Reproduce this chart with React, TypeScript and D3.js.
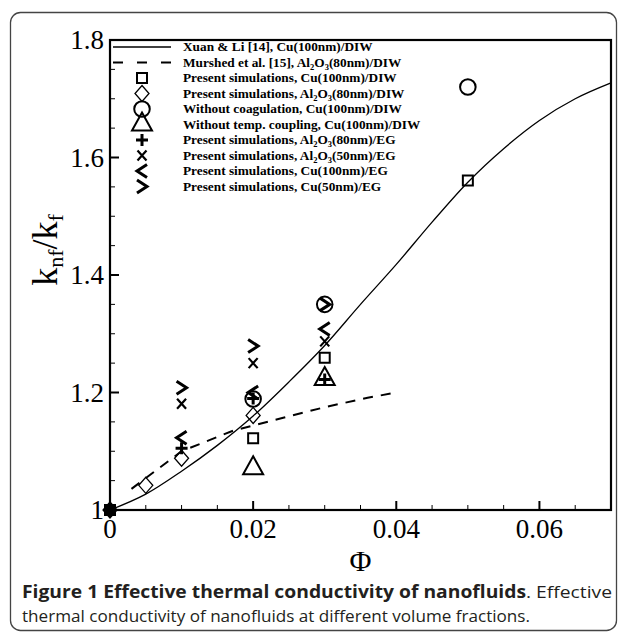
import { useEffect, useRef } from 'react';
import * as d3 from 'd3';

// Xuan & Li model curve
const xuanPhi = [0, 0.005, 0.01, 0.015, 0.02, 0.025, 0.03, 0.035, 0.04, 0.045, 0.05, 0.055, 0.06, 0.065, 0.07];
const xuanK = [1.0, 1.027, 1.066, 1.11, 1.16, 1.218, 1.28, 1.35, 1.418, 1.49, 1.558, 1.615, 1.663, 1.7, 1.727];

// Murshed et al. line
const murshedPhi = [0.003, 0.01, 0.0172, 0.0242, 0.03, 0.036, 0.04];
const murshedK = [1.036, 1.1, 1.135, 1.157, 1.175, 1.191, 1.2];

// marker series
const squarePhi = [0, 0.02, 0.03, 0.05];
const squareK = [1.0, 1.122, 1.259, 1.561];
const diamondPhi = [0, 0.005, 0.01, 0.02];
const diamondK = [1.0, 1.042, 1.088, 1.161];
const circlePhi = [0.02, 0.03, 0.05];
const circleK = [1.189, 1.35, 1.72];
const trianglePhi = [0.02, 0.03];
const triangleK = [1.071, 1.223];
const plusPhi = [0, 0.01, 0.02, 0.03];
const plusK = [1.0, 1.105, 1.19, 1.222];
const crossPhi = [0, 0.01, 0.02, 0.03];
const crossK = [1.0, 1.181, 1.25, 1.287];
const lessPhi = [0.01, 0.02, 0.03];
const lessK = [1.123, 1.2, 1.308];
const greaterPhi = [0.01, 0.02, 0.03];
const greaterK = [1.208, 1.279, 1.35];

const xTicks = [0, 0.02, 0.04, 0.06];
const xTickLabels = ['0', '0.02', '0.04', '0.06'];
const yTicks = [1.0, 1.2, 1.4, 1.6, 1.8];
const yTickLabels = ['1', '1.2', '1.4', '1.6', '1.8'];

// legend rows: [before, sub1, mid, sub2, after]
const legendRows = [
  ['Xuan & Li [14], Cu(100nm)/DIW'],
  ['Murshed et al. [15], Al', '2', 'O', '3', '(80nm)/DIW'],
  ['Present simulations, Cu(100nm)/DIW'],
  ['Present simulations, Al', '2', 'O', '3', '(80nm)/DIW'],
  ['Without coagulation, Cu(100nm)/DIW'],
  ['Without temp. coupling, Cu(100nm)/DIW'],
  ['Present simulations, Al', '2', 'O', '3', '(80nm)/EG'],
  ['Present simulations, Al', '2', 'O', '3', '(50nm)/EG'],
  ['Present simulations, Cu(100nm)/EG'],
  ['Present simulations, Cu(50nm)/EG'],
];
const legendKinds = ['solid', 'dashed', 'square', 'diamond', 'circle', 'triangle', 'plus', 'cross', 'less', 'greater'];

const W = 629;
const H = 637;

function markerPath(kind: string): string {
  switch (kind) {
    case 'square': return d3.symbol(d3.symbolSquare, 100)() as string;
    case 'diamond': return 'M0,-8L7,0L0,8L-7,0Z';
    case 'circle': return d3.symbol(d3.symbolCircle, 190)() as string;
    case 'triangle': return 'M0,-12L10,6L-10,6Z';
    case 'plus': return 'M-6,0H6M0,-6V6';
    case 'cross': return 'M-4.5,-5L4.5,5M4.5,-5L-4.5,5';
    case 'less': return 'M5,-6.5L-5,0L5,6.5';
    case 'greater': return 'M-5,-6.5L5,0L-5,6.5';
  }
  return '';
}

function App() {
  const svgRef = useRef<SVGSVGElement>(null);

  useEffect(() => {
    const svg = d3.select(svgRef.current);
    svg.selectAll('*').remove();

    const left = 110, right = 611, top = 40, bottom = 510;
    const x = d3.scaleLinear().domain([0, 0.07]).range([left, right]);
    const y = d3.scaleLinear().domain([1.0, 1.8]).range([bottom, top]);

    // outer frame
    svg.append('rect')
      .attr('x', 10.5).attr('y', 12.5).attr('width', 606).attr('height', 618)
      .attr('rx', 10).attr('fill', 'white').attr('stroke', '#444').attr('stroke-width', 1.3);

    const plot = svg.append('g');

    // plot frame
    plot.append('rect')
      .attr('x', left).attr('y', top).attr('width', right - left).attr('height', bottom - top)
      .attr('fill', 'none').attr('stroke', 'black').attr('stroke-width', 2.2);

    // minor + major ticks
    const xMinor = d3.range(0, 0.0701, 0.005);
    plot.selectAll('.xt').data(xMinor).join('line')
      .attr('x1', d => x(d)).attr('x2', d => x(d))
      .attr('y1', bottom)
      .attr('y2', (d, i) => bottom - (i % 4 === 0 ? 9 : 5))
      .attr('stroke', 'black').attr('stroke-width', (d, i) => (i % 4 === 0 ? 2 : 1));
    const yMinor = d3.range(1.0, 1.801, 0.05);
    plot.selectAll('.yt').data(yMinor).join('line')
      .attr('y1', d => y(d)).attr('y2', d => y(d))
      .attr('x1', left)
      .attr('x2', (d, i) => left + (i % 4 === 0 ? 9 : 5))
      .attr('stroke', 'black').attr('stroke-width', (d, i) => (i % 4 === 0 ? 2 : 1));

    const serif = '"Liberation Serif", "Times New Roman", serif';
    plot.selectAll('.xl').data(xTicks).join('text')
      .attr('x', d => x(d)).attr('y', bottom + 28)
      .attr('text-anchor', 'middle')
      .attr('font-family', serif).attr('font-size', 27)
      .text((d, i) => xTickLabels[i]);
    plot.selectAll('.yl').data(yTicks).join('text')
      .attr('x', left - 6).attr('y', d => y(d) + 9)
      .attr('text-anchor', 'end')
      .attr('font-family', serif).attr('font-size', 27)
      .text((d, i) => yTickLabels[i]);

    // axis titles
    plot.append('text')
      .attr('x', x(0.035)).attr('y', 571)
      .attr('text-anchor', 'middle')
      .attr('font-family', serif).attr('font-size', 30)
      .text('Φ');
    const yl = plot.append('text')
      .attr('transform', `translate(57,250) rotate(-90)`)
      .attr('text-anchor', 'middle')
      .attr('font-family', serif).attr('font-size', 36);
    yl.append('tspan').text('k');
    yl.append('tspan').attr('font-size', 22).attr('dy', 6).text('nf');
    yl.append('tspan').attr('dy', -6).text('/k');
    yl.append('tspan').attr('font-size', 22).attr('dy', 6).text('f');

    // curves
    const line = d3.line<number>().curve(d3.curveMonotoneX);
    plot.append('path')
      .attr('d', line.x((d, i) => x(xuanPhi[i])).y(d => y(d))(xuanK))
      .attr('fill', 'none').attr('stroke', 'black').attr('stroke-width', 1.3);
    plot.append('path')
      .attr('d', d3.line<number>().x((d, i) => x(murshedPhi[i])).y(d => y(d))(murshedK))
      .attr('fill', 'none').attr('stroke', 'black').attr('stroke-width', 2)
      .attr('stroke-dasharray', '10,8');

    const series: [string, number[], number[]][] = [
      ['square', squarePhi, squareK],
      ['diamond', diamondPhi, diamondK],
      ['circle', circlePhi, circleK],
      ['triangle', trianglePhi, triangleK],
      ['plus', plusPhi, plusK],
      ['cross', crossPhi, crossK],
      ['less', lessPhi, lessK],
      ['greater', greaterPhi, greaterK],
    ];
    const strokeW: Record<string, number> = {
      square: 2, diamond: 1.3, circle: 2, triangle: 2, plus: 3, cross: 2.2, less: 3, greater: 3,
    };
    series.forEach(([kind, ps, ks]) => {
      plot.selectAll(`.m-${kind}`).data(ks).join('path')
        .attr('transform', (d, i) => `translate(${x(ps[i])},${y(d)})`)
        .attr('d', markerPath(kind))
        .attr('fill', (d, i) => (ps[i] === 0 ? 'black' : 'none'))
        .attr('stroke', 'black').attr('stroke-width', strokeW[kind]);
    });

    // legend
    const lg = plot.append('g');
    const rowY = (i: number) => 47 + i * 15.5;
    legendKinds.forEach((kind, i) => {
      const yy = rowY(i);
      if (kind === 'solid') {
        lg.append('line').attr('x1', 113).attr('x2', 171).attr('y1', yy).attr('y2', yy)
          .attr('stroke', 'black').attr('stroke-width', 1.3);
      } else if (kind === 'dashed') {
        lg.append('line').attr('x1', 113).attr('x2', 171).attr('y1', yy).attr('y2', yy)
          .attr('stroke', 'black').attr('stroke-width', 2).attr('stroke-dasharray', '10,14');
      } else {
        lg.append('path').attr('transform', `translate(142,${yy})`)
          .attr('d', markerPath(kind))
          .attr('fill', 'none').attr('stroke', 'black').attr('stroke-width', strokeW[kind]);
      }
      const row = legendRows[i];
      const t = lg.append('text').attr('x', 183).attr('y', yy + 4)
        .attr('font-family', serif).attr('font-weight', 'bold').attr('font-size', 13.3);
      t.append('tspan').text(row[0]);
      if (row.length > 1) {
        t.append('tspan').attr('font-size', 8.5).attr('dy', 3).text(row[1]);
        t.append('tspan').attr('dy', -3).text(row[2]);
        t.append('tspan').attr('font-size', 8.5).attr('dy', 3).text(row[3]);
        t.append('tspan').attr('dy', -3).text(row[4]);
      }
    });

    // caption
    const sans = '"Open Sans", "Noto Sans", sans-serif';
    const c1 = svg.append('text').attr('x', 22).attr('y', 598)
      .attr('font-family', sans).attr('font-size', 17).attr('fill', '#231f20')
      .attr('textLength', 590).attr('lengthAdjust', 'spacingAndGlyphs');
    c1.append('tspan').attr('font-weight', 'bold').text('Figure 1 Effective thermal conductivity of nanofluids');
    c1.append('tspan').text('. Effective');
    svg.append('text').attr('x', 22).attr('y', 622)
      .attr('font-family', sans).attr('font-size', 17).attr('fill', '#231f20')
      .attr('textLength', 508).attr('lengthAdjust', 'spacingAndGlyphs')
      .text('thermal conductivity of nanofluids at different volume fractions.');
  }, []);

  return (
    <svg ref={svgRef} width={W} height={H}
      style={{ position: 'absolute', left: 0, top: 0, background: 'white' }} />
  );
}

export default App;
